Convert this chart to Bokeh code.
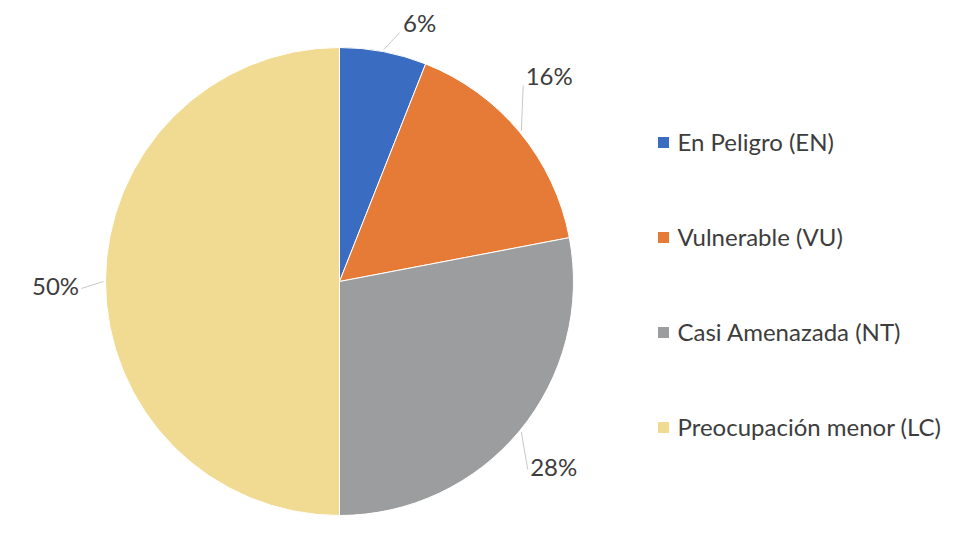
import math
from bokeh.plotting import figure
from bokeh.models import Range1d
from bokeh.core.properties import value
from bokeh.embed import file_html
from bokeh.resources import INLINE

categories = ["En Peligro (EN)", "Vulnerable (VU)", "Casi Amenazada (NT)", "Preocupación menor (LC)"]
values = [6, 16, 28, 50]
labels = ["6%", "16%", "28%", "50%"]
colors = ["#3a6cc2", "#e57b36", "#9b9d9e", "#f1da92"]

W, H = 970, 554
CX, CY, R = 339, 554 - 281, 234
FONT = "Lato"
FS = "24px"
TXT = "#3d3d3d"

# per-label placement (style): radius and angle nudge in degrees
label_r = [271, 294, 283, 284]
label_nudge = [-6.4, 4.9, -1.2, 0.8]
label_w = [36, 48, 48, 48]

p = figure(width=W, height=H, x_range=Range1d(0, W), y_range=Range1d(0, H),
           x_axis_type=None, y_axis_type=None, toolbar_location=None,
           output_backend="svg", min_border=0, outline_line_color=None)
p.grid.visible = False
p.background_fill_color = "white"
p.border_fill_color = "white"

total = float(sum(values))
cum = 0.0
starts, ends, mids = [], [], []
for v in values:
    a0 = math.pi / 2 - 2 * math.pi * cum / total
    cum += v
    a1 = math.pi / 2 - 2 * math.pi * cum / total
    starts.append(a0)
    ends.append(a1)
    mids.append((a0 + a1) / 2)

p.wedge(x=[CX] * len(values), y=[CY] * len(values), radius=R,
        start_angle=starts, end_angle=ends, direction="clock",
        fill_color=colors, line_color="white", line_width=1)

# data labels + leader lines
for i, lab in enumerate(labels):
    a = mids[i] + math.radians(label_nudge[i])
    lx = CX + label_r[i] * math.cos(a)
    ly = CY + label_r[i] * math.sin(a)
    ex = CX + (R + 2) * math.cos(mids[i])
    ey = CY + (R + 2) * math.sin(mids[i])
    side = 1 if math.cos(a) > 0 else -1
    tx = lx - side * (label_w[i] / 2 + 2)
    ty = ly - 10 if math.sin(a) > 0.3 else ly - 3
    p.line([ex, tx], [ey, ty], line_color="#c8c8c8", line_width=1)
    p.text(x=[lx], y=[ly], text=[lab], text_align="center", text_baseline="middle",
           text_font=value(FONT), text_font_size=FS, text_color=TXT)

# legend
lg_x, lg_y0, lg_dy = 663, 554 - 141, 95
ys = [lg_y0 - i * lg_dy for i in range(len(categories))]
p.scatter(x=[lg_x] * len(categories), y=[y - 1 for y in ys], marker="square", size=11,
          fill_color=colors, line_color=None)
p.text(x=[lg_x + 14] * len(categories), y=ys, text=categories,
       text_align="left", text_baseline="middle",
       text_font=value(FONT), text_font_size=FS, text_color=TXT)

open("out.html", "w").write(file_html(p, INLINE))
